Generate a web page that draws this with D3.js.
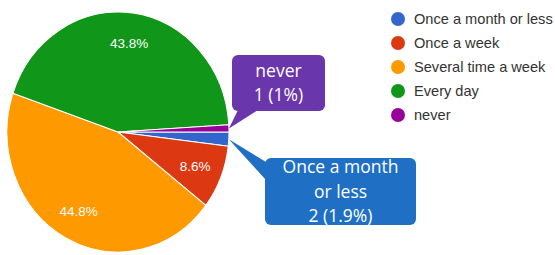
<!DOCTYPE html>
<html>
<head>
<meta charset="utf-8">
<script src="https://cdn.jsdelivr.net/npm/d3@7"></script>
<style>
  body { margin: 0; background: #fff; }
  svg { display: block; }
</style>
</head>
<body>
<svg id="chart" width="555" height="255"></svg>
<script>
// answers, in the order google forms lists them
var categories = ["Once a month or less", "Once a week", "Several time a week", "Every day", "never"];
var counts = [2, 9, 47, 46, 1];
var percents = ["1.9%", "8.6%", "44.8%", "43.8%", "1%"];
var colors = ["#3366cc", "#dc3912", "#ff9900", "#109618", "#990099"];

var svg = d3.select("#chart");
var cx = 118, cy = 132, rx = 111, ry = 120;

var pie = d3.pie().sort(null).startAngle(Math.PI / 2).endAngle(Math.PI / 2 + 2 * Math.PI);
var arcs = pie(counts);
var arc = d3.arc().innerRadius(0).outerRadius(rx);
var labelArc = d3.arc().innerRadius(rx * 0.75).outerRadius(rx * 0.75);

var g = svg.append("g").attr("transform", "translate(" + cx + "," + cy + ") scale(1," + (ry / rx) + ")");

g.selectAll("path")
  .data(arcs)
  .enter().append("path")
  .attr("d", arc)
  .attr("fill", function(d, i) { return colors[i]; })
  .attr("stroke", "#fff")
  .attr("stroke-width", 1);

// only the bigger slices get a label inside
var lbl = svg.append("g");
arcs.forEach(function(d, i) {
  if (d.endAngle - d.startAngle < 0.3) return;
  var c = labelArc.centroid(d);
  lbl.append("text")
    .attr("x", cx + c[0])
    .attr("y", cy + c[1] * ry / rx)
    .attr("dy", "0.35em")
    .attr("text-anchor", "middle")
    .attr("fill", "#fff")
    .attr("font-family", "Liberation Sans, Arial, sans-serif")
    .attr("font-size", 13.5)
    .text(percents[i]);
});

// callouts for the small slices
function edgePoint(d) {
  var a = (d.startAngle + d.endAngle) / 2;
  return [cx + Math.sin(a) * rx, cy - Math.cos(a) * ry];
}

var callouts = [
  { idx: 4, fill: "#6a36ab", box: [232, 55, 93, 56], base: [[238, 110], [258, 110]],
    lines: ["never", counts[4] + " (" + percents[4] + ")"] },
  { idx: 0, fill: "#1f70c4", box: [265, 158, 151, 67], base: [[266, 162], [266, 180]],
    lines: ["Once a month", "or less", counts[0] + " (" + percents[0] + ")"] }
];

callouts.forEach(function(c) {
  var tip = edgePoint(arcs[c.idx]);
  var cg = svg.append("g");
  cg.append("path")
    .attr("d", d3.line()([tip, c.base[0], c.base[1]]) + "Z")
    .attr("fill", c.fill);
  cg.append("rect")
    .attr("x", c.box[0]).attr("y", c.box[1])
    .attr("width", c.box[2]).attr("height", c.box[3])
    .attr("rx", 6)
    .attr("fill", c.fill);
  var lh = 24.5;
  var y0 = c.box[1] + c.box[3] / 2 - (c.lines.length - 1) * lh / 2;
  c.lines.forEach(function(t, k) {
    cg.append("text")
      .attr("x", c.box[0] + c.box[2] / 2)
      .attr("y", y0 + k * lh)
      .attr("dy", "0.35em")
      .attr("text-anchor", "middle")
      .attr("fill", "#fff")
      .attr("font-family", "Open Sans, sans-serif")
      .attr("font-size", 17.5)
      .text(t);
  });
});

// legend
var legY = d3.scalePoint().domain(categories).range([19, 115]);
var leg = svg.append("g").selectAll("g")
  .data(categories)
  .enter().append("g")
  .attr("transform", function(d) { return "translate(398," + legY(d) + ")"; });

leg.append("circle")
  .attr("r", 7)
  .attr("fill", function(d, i) { return colors[i]; });

leg.append("text")
  .attr("x", 16)
  .attr("dy", "0.35em")
  .attr("fill", "#333")
  .attr("font-family", "Liberation Sans, Arial, sans-serif")
  .attr("font-size", 14.6)
  .text(function(d) { return d; });
</script>
</body>
</html>
